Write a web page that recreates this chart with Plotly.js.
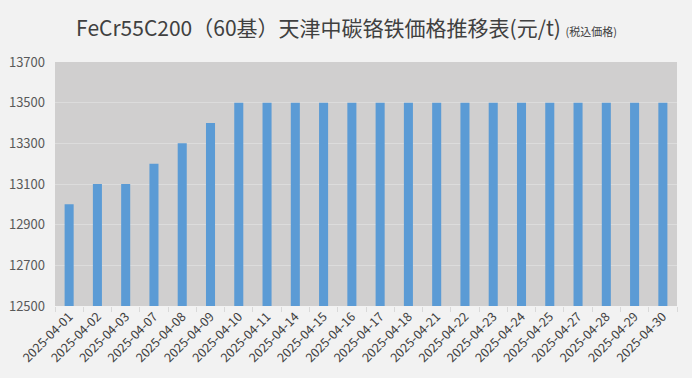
<!DOCTYPE html>
<html><head><meta charset="utf-8">
<script src="https://cdn.plot.ly/plotly-3.0.1.min.js"></script>
<style>html,body{margin:0;padding:0;background:#f2f2f2;}</style>
</head><body>
<div id="chart" style="width:692px;height:378px;"></div>
<script>
const dates = ["2025-04-01","2025-04-02","2025-04-03","2025-04-07","2025-04-08","2025-04-09","2025-04-10","2025-04-11","2025-04-14","2025-04-15","2025-04-16","2025-04-17","2025-04-18","2025-04-21","2025-04-22","2025-04-23","2025-04-24","2025-04-25","2025-04-27","2025-04-28","2025-04-29","2025-04-30"];
const prices = [13000,13100,13100,13200,13300,13400,13500,13500,13500,13500,13500,13500,13500,13500,13500,13500,13500,13500,13500,13500,13500,13500];
const yTicks = [12500,12700,12900,13100,13300,13500,13700];

const font = '"Noto Sans CJK JP","Noto Sans CJK SC","Noto Sans",sans-serif';
Plotly.newPlot('chart', [{
  type:'bar', x:dates, y:prices,
  marker:{color:'#5b9bd5'},
  hoverinfo:'x+y'
}], {
  width:692, height:378,
  paper_bgcolor:'#f2f2f2', plot_bgcolor:'#d0cfcf',
  margin:{l:55, r:15, t:62, b:72},
  bargap:0.68,
  title:{text:'FeCr55C200（60基）天津中碳铬铁価格推移表(元/t) <span style="font-size:11px">(税込価格)</span>',
    font:{family:font, size:21, color:'#404040'}, x:0.11, xanchor:'left', y:0.925, yanchor:'middle'},
  xaxis:{type:'category', tickangle:-45, tickfont:{family:font,size:12.5,color:'#404040'},
    ticks:'outside', ticklen:5, tickcolor:'#d9d9d9', showgrid:false, showline:false,
    tickson:'boundaries'},
  yaxis:{range:[12500,13700], tickvals:yTicks, ticktext:yTicks.map(String),
    tickfont:{family:font,size:13,color:'#595959'}, gridcolor:'#dcdcdc', gridwidth:1,
    zeroline:false, showline:false, ticklabelstandoff:9},
  showlegend:false
}, {displayModeBar:false});
</script>
</body></html>
